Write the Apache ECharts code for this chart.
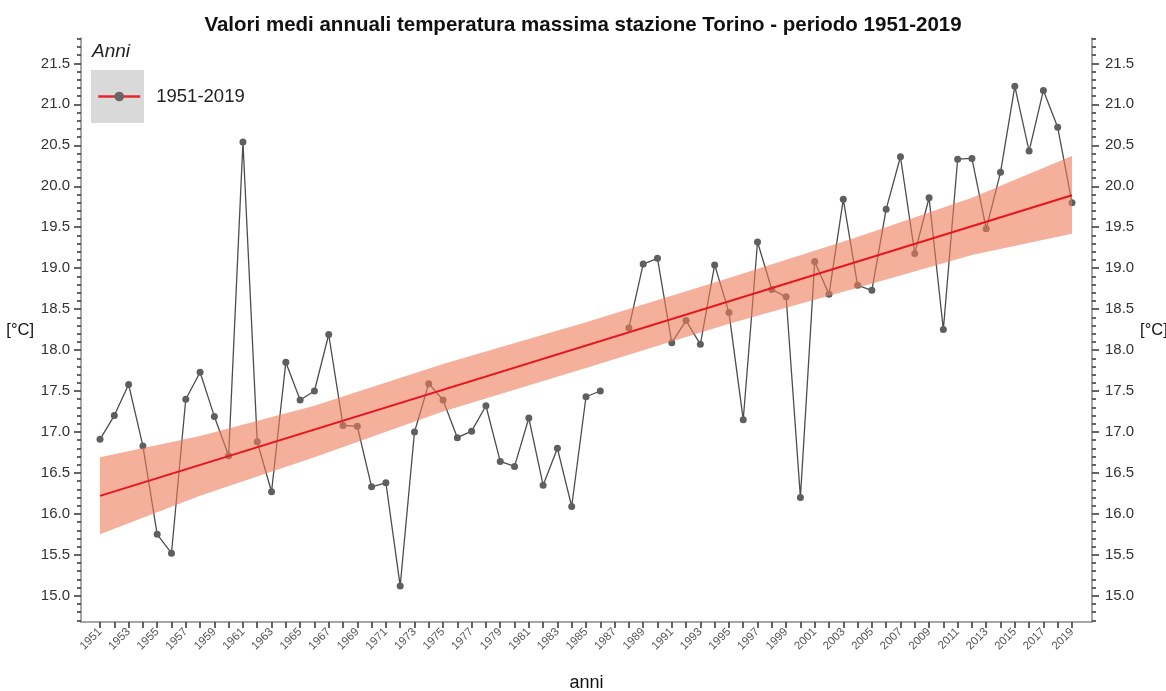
<!DOCTYPE html>
<html>
<head>
<meta charset="utf-8">
<script src="https://cdn.jsdelivr.net/npm/echarts@6/dist/echarts.min.js"></script>
<style>html,body{margin:0;padding:0;background:#fff}#c{width:1166px;height:691px}</style>
</head>
<body>
<div id="c"></div>
<script>
// ---- data ----
const years = [1951,1952,1953,1954,1955,1956,1957,1958,1959,1960,1961,1962,1963,1964,1965,1966,1967,1968,1969,1970,
  1971,1972,1973,1974,1975,1976,1977,1978,1979,1980,1981,1982,1983,1984,1985,1986,1987,1988,1989,1990,
  1991,1992,1993,1994,1995,1996,1997,1998,1999,2000,2001,2002,2003,2004,2005,2006,2007,2008,2009,2010,
  2011,2012,2013,2014,2015,2016,2017,2018,2019];
const tmax = [16.91,17.20,17.58,16.83,15.75,15.52,17.40,17.73,17.19,16.71,20.54,16.88,16.27,17.85,17.39,17.50,18.19,17.08,17.07,16.33,
  16.38,15.12,17.00,17.59,17.39,16.93,17.01,17.32,16.64,16.58,17.17,16.35,16.80,16.09,17.43,17.50,null,18.27,19.05,19.12,
  18.09,18.36,18.07,19.04,18.46,17.15,19.32,18.74,18.65,16.20,19.08,18.68,19.84,18.79,18.73,19.72,20.36,19.18,19.86,18.25,
  20.33,20.34,19.48,20.17,21.22,20.43,21.17,20.72,19.80];
const trendYears = [1951, 2019];
const trendValues = [16.22, 19.89];
const bandYears = [1951, 1958, 1966, 1975, 1985, 1995, 2004, 2012, 2019];
const bandLower = [15.75, 16.22, 16.69, 17.25, 17.78, 18.32, 18.76, 19.16, 19.42];
const bandUpper = [16.69, 16.95, 17.32, 17.83, 18.34, 18.88, 19.38, 19.86, 20.37];
const yMajorTicks = [15.0,15.5,16.0,16.5,17.0,17.5,18.0,18.5,19.0,19.5,20.0,20.5,21.0,21.5];
const xTickYears = years.slice();
const xLabelYears = years.filter(y => y % 2 === 1);

// ---- derived ----
const yMinorTicks = [];
for (let i = 147; i <= 218; i++) { if (i % 5 !== 0) yMinorTicks.push(i / 10); }
const seriesData = years.map((y, i) => [y, tmax[i] == null ? '-' : tmax[i]]);
const bandData = bandYears.map((y, i) => [y, bandLower[i], bandUpper[i]]);
const trendData = trendYears.map((y, i) => [y, trendValues[i]]);

const YMIN = 14.68, YMAX = 21.81;
const font = "'Liberation Sans', Arial, Helvetica, sans-serif";

function yAx(pos, minor) {
  return {
    type: 'value', position: pos, min: YMIN, max: YMAX,
    splitLine: { show: false },
    axisLine: { show: !minor, lineStyle: { color: '#8a8a8a', width: 1.5 } },
    axisTick: { show: true, inside: false, length: minor ? 4 : 7,
      customValues: minor ? yMinorTicks : yMajorTicks,
      lineStyle: { color: '#333', width: 1.5 } },
    axisLabel: minor ? { show: false } : {
      show: true, customValues: yMajorTicks, margin: pos === 'left' ? 11 : 13,
      formatter: v => v.toFixed(1), color: '#333', fontSize: 15, fontFamily: font },
    name: minor ? '' : '[°C]', nameLocation: 'middle', nameRotate: 0, nameGap: pos === 'left' ? 47 : 42,
    nameTextStyle: { fontSize: 16.5, color: '#111', fontFamily: font }
  };
}

function renderBand(params, api) {
  if (params.dataIndex !== 0) return;
  const up = [], lo = [];
  for (let i = 0; i < bandData.length; i++) {
    up.push(api.coord([bandData[i][0], bandData[i][2]]));
    lo.push(api.coord([bandData[i][0], bandData[i][1]]));
  }
  return {
    type: 'polygon',
    shape: { points: up.concat(lo.reverse()) },
    style: { fill: 'rgb(236,124,88)', opacity: 0.6 }
  };
}

const chart = echarts.init(document.getElementById('c'), null, { renderer: 'canvas' });
chart.setOption({
  animation: false,
  backgroundColor: '#fff',
  title: {
    text: 'Valori medi annuali temperatura massima stazione Torino - periodo 1951-2019',
    left: 'center', top: 10,
    textStyle: { fontSize: 20.5, fontWeight: 'bold', color: '#111', fontFamily: font }
  },
  grid: { left: 81, right: 74, top: 38, bottom: 69, containLabel: false, outerBoundsMode: 'none' },
  graphic: [
    { type: 'rect', left: 91, top: 70, shape: { width: 53, height: 53 }, style: { fill: '#d9d9d9' }, z: -1 },
    { type: 'text', left: 92, top: 42, style: { text: 'Anni', font: 'italic 19px ' + font, fill: '#222' } }
  ],
  legend: {
    left: 97, top: 87, padding: 0, itemWidth: 42, itemHeight: 12,
    textStyle: { fontSize: 18.5, color: '#222', fontFamily: font, padding: [0, 0, 0, 11] },
    data: [{ name: '1951-2019', itemStyle: { color: '#666' }, lineStyle: { color: '#e4262c', width: 2.5 } }]
  },
  xAxis: {
    type: 'value', min: 1949.67, max: 2020.4,
    splitLine: { show: false },
    axisLine: { show: true, lineStyle: { color: '#8a8a8a', width: 1.5 } },
    axisTick: { show: true, length: 6, customValues: xTickYears, lineStyle: { color: '#333', width: 1.5 } },
    axisLabel: { customValues: xLabelYears, rotate: 45, fontSize: 11.5, color: '#555', margin: 8, fontFamily: font,
      formatter: v => String(v) },
    name: 'anni', nameLocation: 'middle', nameGap: 52,
    nameTextStyle: { fontSize: 18, color: '#111', fontFamily: font }
  },
  yAxis: [yAx('left', false), yAx('left', true), yAx('right', false), yAx('right', true)],
  series: [
    {
      name: '1951-2019', type: 'line', data: seriesData, z: 2,
      symbol: 'circle', symbolSize: 7, connectNulls: false,
      lineStyle: { color: '#4d4d4d', width: 1.3 },
      itemStyle: { color: '#5f5f5f' }
    },
    {
      name: 'band', type: 'custom', data: bandData, z: 3, silent: true,
      renderItem: renderBand,
      encode: { x: 0, y: [1, 2] }
    },
    {
      name: 'trend', type: 'line', data: trendData, z: 4,
      symbol: 'none', lineStyle: { color: '#e8141c', width: 2 }, silent: true
    }
  ]
});
</script>
</body>
</html>
